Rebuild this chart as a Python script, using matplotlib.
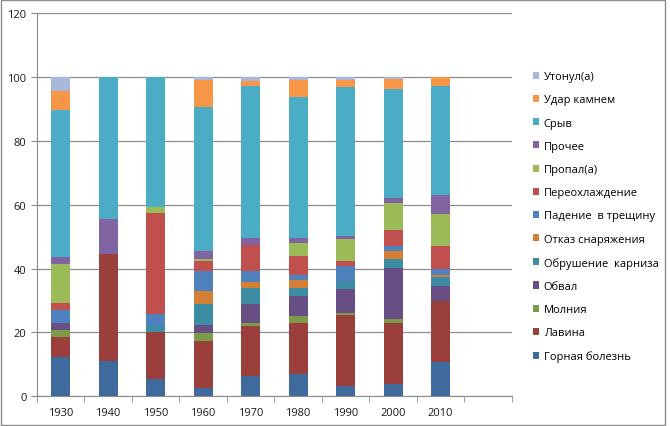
import numpy as np
import matplotlib
matplotlib.use("Agg")
import matplotlib.pyplot as plt
from matplotlib.patches import Rectangle

plt.rcParams["font.family"] = ["Open Sans", "DejaVu Sans"]

decades = ["1930", "1940", "1950", "1960", "1970", "1980", "1990", "2000", "2010"]

# causes, bottom to top of the stack
causes = ["Горная болезнь", "Лавина", "Молния", "Обвал", "Обрушение  карниза",
          "Отказ снаряжения", "Падение  в трещину", "Переохлаждение", "Пропал(а)",
          "Прочее", "Срыв", "Удар камнем", "Утонул(а)"]

gornaya = [12.4, 11.1, 5.4, 2.6, 6.3, 6.9, 3.3, 3.8, 10.6]
lavina = [6.2, 33.3, 14.6, 14.8, 15.7, 16.2, 22.1, 19.1, 19.1]
molniya = [2.1, 0, 0, 2.4, 1.1, 1.9, 0.6, 1.3, 0]
obval = [2.2, 0, 0, 2.5, 5.7, 6.3, 7.5, 15.9, 4.8]
karniz = [0, 0, 1.9, 6.5, 5.1, 2.6, 2.4, 3.0, 2.8]
otkaz = [0, 0, 0, 4.2, 1.9, 2.4, 0, 2.4, 0.6]
treshchina = [4.2, 0, 3.8, 6.3, 3.3, 1.8, 4.8, 1.6, 2.1]
pereohl = [2.1, 0, 31.6, 3.0, 8.3, 5.7, 1.7, 4.9, 7.1]
propal = [12.1, 0, 2.0, 0.6, 0, 4.2, 6.8, 8.6, 9.9]
prochee = [2.3, 11.1, 0, 2.5, 2.1, 1.5, 0.9, 1.6, 6.0]
sryv = [45.9, 44.5, 40.7, 45.2, 47.8, 44.1, 46.8, 34.0, 34.3]
udar = [6.2, 0, 0, 8.4, 1.5, 5.4, 2.1, 3.2, 2.7]
utonul = [4.3, 0, 0, 1.0, 1.2, 1.0, 1.0, 0.6, 0]

series = [gornaya, lavina, molniya, obval, karniz, otkaz, treshchina,
          pereohl, propal, prochee, sryv, udar, utonul]

colors = ["#3F6A9E", "#9B3F3C", "#7D9A48", "#674F84", "#3C8DA3", "#D47F36",
          "#4F81BD", "#C0504D", "#9BBB59", "#8064A2", "#4BACC6", "#F79646",
          "#A9B8DA"]

fig = plt.figure(figsize=(6.7, 4.27), dpi=100)
ax = fig.add_axes([0.0552, 0.0696, 0.7088, 0.8976])

x = np.arange(len(decades))
bottom = np.zeros(len(decades))
handles = []
for name, vals, col in zip(causes, series, colors):
    vals = np.array(vals)
    b = ax.bar(x, vals, 0.4, bottom=bottom, color=col, label=name, linewidth=0)
    handles.append(b)
    bottom += vals

ax.set_xlim(-0.5, 9.5)
ax.set_ylim(0, 120)
ax.set_yticks(range(0, 121, 20))
ax.yaxis.grid(True, color="#8c8c8c", linewidth=0.9)
ax.set_axisbelow(True)
ax.set_xticks(x)
ax.set_xticklabels(decades)
ax.set_xticks(np.arange(-0.5, 10, 1), minor=True)
ax.tick_params(axis="x", which="major", length=0, pad=8, labelsize=8)
ax.tick_params(axis="x", which="minor", length=4, color="#8c8c8c")
ax.tick_params(axis="y", length=4, color="#8c8c8c", labelsize=8)
for lab in ax.get_yticklabels() + ax.get_xticklabels():
    lab.set_color("#1a1a1a")
for s in ["top", "right"]:
    ax.spines[s].set_visible(False)
ax.spines["left"].set_color("#8c8c8c")
ax.spines["bottom"].set_color("#8c8c8c")

fig.legend(handles[::-1], causes[::-1], loc="center left",
           bbox_to_anchor=(0.78, 0.49), frameon=False, fontsize=8,
           handlelength=0.6, handleheight=0.6, handletextpad=0.4,
           labelspacing=1.1)

fig.patches.append(Rectangle((0.002, 0.002), 0.99, 0.995, transform=fig.transFigure,
                             fill=False, edgecolor="#8c8c8c", linewidth=1))

fig.savefig("out.png", dpi=100)
